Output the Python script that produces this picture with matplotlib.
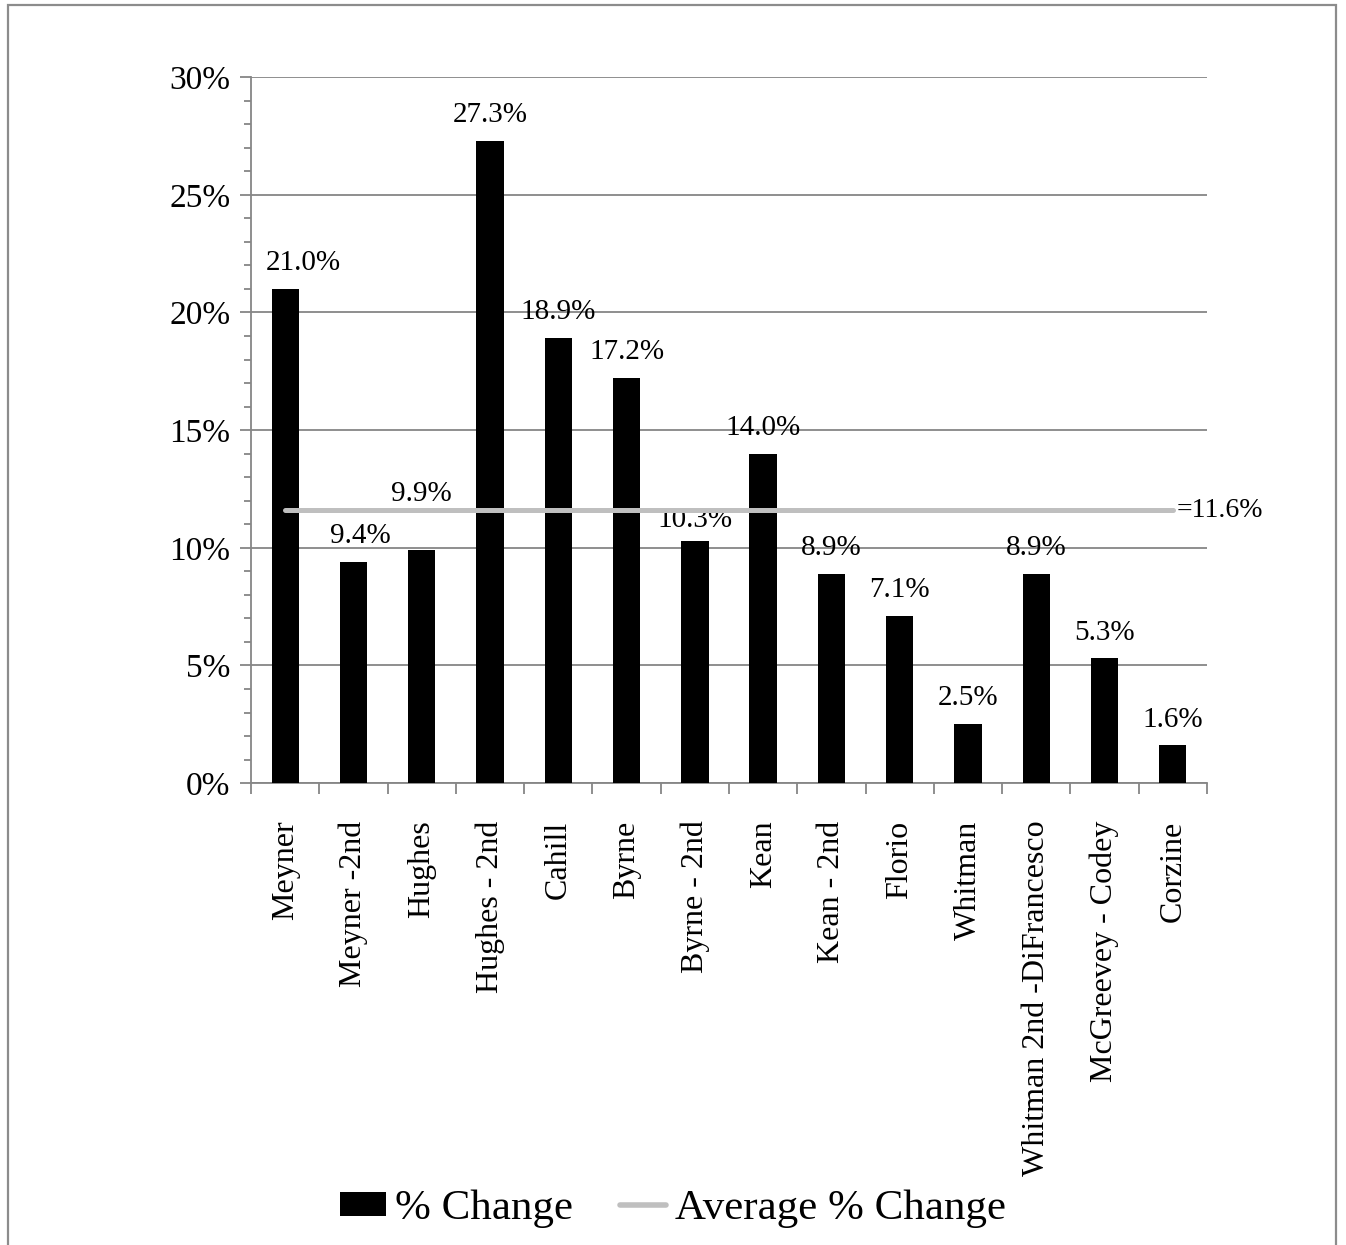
import matplotlib
matplotlib.use("Agg")
import matplotlib.pyplot as plt
import numpy as np
from matplotlib.lines import Line2D
from matplotlib.patches import Patch, Rectangle
from matplotlib.ticker import FixedLocator, MultipleLocator

plt.rcParams['font.family'] = ['Liberation Serif', 'DejaVu Serif']

names = ["Meyner", "Meyner -2nd", "Hughes", "Hughes - 2nd", "Cahill", "Byrne",
         "Byrne - 2nd", "Kean", "Kean - 2nd", "Florio", "Whitman",
         "Whitman 2nd -DiFrancesco", "McGreevey - Codey", "Corzine"]
pct_change = [21.0, 9.4, 9.9, 27.3, 18.9, 17.2, 10.3, 14.0, 8.9, 7.1, 2.5, 8.9, 5.3, 1.6]
avg_change = 11.6

grey = '#868686'
avg_grey = '#BFBFBF'

fig = plt.figure(figsize=(13.46, 12.45), dpi=100)
ax = fig.add_axes([0.1865, 0.371, 0.7102, 0.567])

x = np.arange(len(names))
ax.bar(x, pct_change, width=0.4, color='black', zorder=3)
ax.plot([x[0], x[-1]], [avg_change, avg_change], color=avg_grey, lw=3.6,
        solid_capstyle='round', zorder=4)
ax.text(x[-1] + 0.05, avg_change, f"={avg_change:.1f}%", fontsize=20,
        va='center', ha='left')

# value labels over the bars; a few are nudged off the axis / average line
label_dy = {"Hughes": 2.4, "Byrne - 2nd": 0.88}
label_dx = {"Meyner": 0.26, "Meyner -2nd": 0.1}
for xi, v in zip(x, pct_change):
    y = v + label_dy.get(names[xi], 1.1)
    ax.text(xi + label_dx.get(names[xi], 0), y, f"{v:.1f}%",
            ha='center', va='center', fontsize=21)

ax.set_xlim(-0.5, len(names) - 0.5)
ax.set_ylim(0, 30)
ax.yaxis.set_major_locator(MultipleLocator(5))
ax.yaxis.set_minor_locator(MultipleLocator(1))
ax.set_yticklabels([f"{int(t)}%" for t in ax.get_yticks()])
ax.grid(axis='y', color=grey, lw=1.3, zorder=0)

ax.xaxis.set_major_locator(FixedLocator(np.arange(len(names) + 1) - 0.5))
ax.xaxis.set_minor_locator(FixedLocator(x))
ax.set_xticklabels([])
ax.set_xticklabels(names, minor=True, rotation=90, fontsize=23)
ax.tick_params(axis='x', which='major', length=8, color=grey, width=1.3)
ax.tick_params(axis='x', which='minor', length=0, pad=27)
ax.tick_params(axis='y', which='major', length=8, color=grey, width=1.3,
               labelsize=24, pad=7)
ax.tick_params(axis='y', which='minor', length=5, color=grey, width=1.3)

for s in ('top', 'right'):
    ax.spines[s].set_visible(False)
for s in ('left', 'bottom'):
    ax.spines[s].set_color(grey)
    ax.spines[s].set_linewidth(1.3)

handles = [Patch(facecolor='black', label='% Change'),
           Line2D([0], [0], color=avg_grey, lw=4, solid_capstyle='round',
                  label='Average % Change')]
fig.legend(handles=handles, loc='center', bbox_to_anchor=(0.5, 0.029), ncol=2,
           frameon=False, fontsize=31, handlelength=1.07, handleheight=0.5,
           handletextpad=0.2, columnspacing=1.1, borderpad=0)

# outer chart frame
fig.patches.append(Rectangle((8 / 1346, -0.01), 1328 / 1346, 1.01 - 5 / 1245,
                             transform=fig.transFigure, fill=False,
                             edgecolor='#8c8c8c', lw=1.6))

fig.savefig("out.png", dpi=100, facecolor='white')
